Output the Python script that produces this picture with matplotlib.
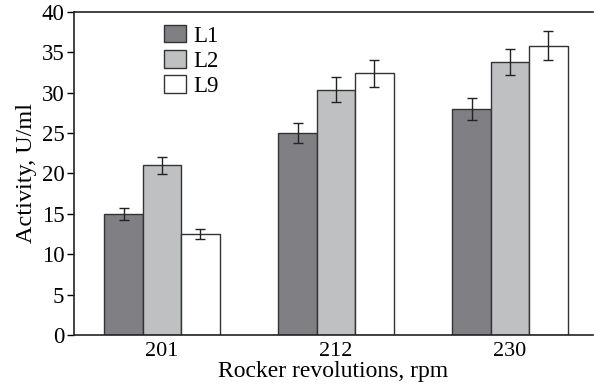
import numpy as np
import matplotlib
matplotlib.use('Agg')
import matplotlib.pyplot as plt

# Data
groups = ['201', '212', '230']
series = ['L1', 'L2', 'L9']
L1 = [15.0, 25.0, 28.0]
L2 = [21.0, 30.4, 33.8]
L9 = [12.5, 32.4, 35.8]
L1_err = [0.75, 1.25, 1.4]
L2_err = [1.05, 1.5, 1.65]
L9_err = [0.6, 1.65, 1.8]

colors = ['#808084', '#bfc0c2', '#ffffff']

plt.rcParams['font.family'] = ['Liberation Serif', 'DejaVu Serif']

fig = plt.figure(figsize=(5.94, 3.9), dpi=100)
ax = fig.add_axes([74 / 594, 1 - 335 / 390, (593 - 74) / 594, (335 - 12) / 390])

x = np.arange(len(groups))
w = 0.221
for k, (vals, errs) in enumerate([(L1, L1_err), (L2, L2_err), (L9, L9_err)]):
    ax.bar(x + (k - 1) * w, vals, w, yerr=errs, color=colors[k],
           edgecolor='#333333', linewidth=1.0, label=series[k],
           error_kw=dict(ecolor='#222222', elinewidth=1.0, capsize=3.5, capthick=1.0))

ax.set_xlim(-0.506, 2.477)
ax.set_ylim(0, 40)
ax.set_yticks(range(0, 41, 5))
ax.set_xticks(x)
ax.set_xticklabels(groups)
ax.tick_params(axis='x', length=0, pad=5, labelsize=16)
ax.tick_params(axis='y', length=5, width=1, direction='out', pad=2, labelsize=16.5)
ax.spines['right'].set_visible(False)
for s in ['left', 'top', 'bottom']:
    ax.spines[s].set_linewidth(1.2)
    ax.spines[s].set_color('#222222')

ax.set_ylabel('Activity, U/ml', fontsize=17.5, labelpad=3)
ax.set_xlabel('Rocker revolutions, rpm', fontsize=17, labelpad=0)

ax.legend(loc='upper left', bbox_to_anchor=(0.142, 1.01), frameon=False,
          fontsize=16.5, handlelength=0.95, handleheight=0.8, handletextpad=0.35,
          labelspacing=0.15, borderaxespad=0.3)

fig.savefig('out.png', dpi=100)
